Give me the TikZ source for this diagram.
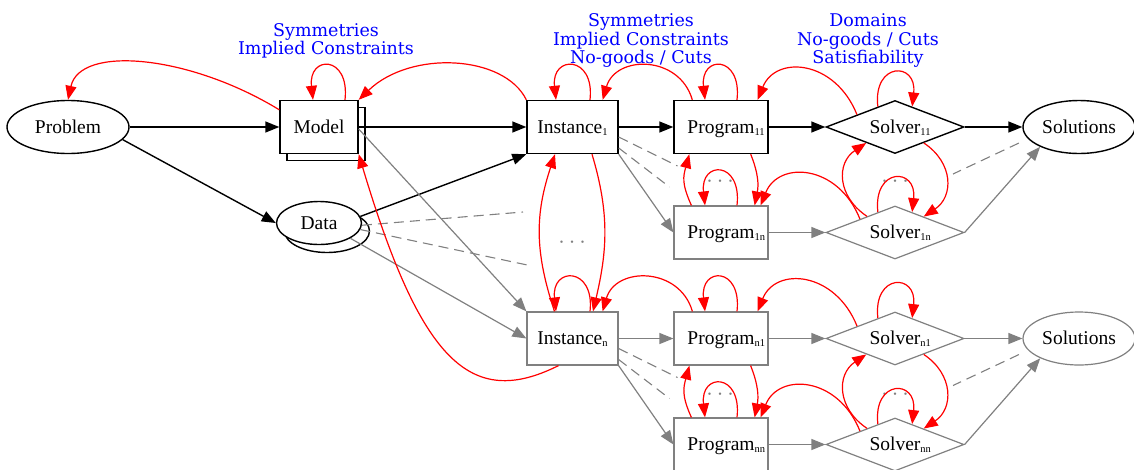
\documentclass[tikz,border=0pt]{standalone}
\usepackage{fontspec}
\setmainfont{Liberation Serif}
\newfontfamily\notefont{DejaVu Serif}
\usetikzlibrary{arrows.meta,shapes.geometric}
% small index set slightly below the baseline
\newcommand\ix[1]{\raisebox{-2pt}{\fontsize{10.5}{10.5}\selectfont #1}}
% index hanging to the right of a centred word
\newcommand\hx[1]{\rlap{\ix{#1}}}
\begin{document}
\begin{tikzpicture}[x=1pt,y=-1pt,
  every node/.style={font=\fontsize{19.5}{22}\selectfont},
  shapebase/.style={inner sep=0pt, fill=white, text height=13pt, text depth=1pt},
  bbox/.style={shapebase, rectangle, draw=black, line width=1.4pt, minimum height=53pt},
  gbox/.style={bbox, draw=gray, line width=1.2pt},
  bell/.style={shapebase, ellipse, draw=black, line width=1.4pt},
  gell/.style={bell, draw=gray, line width=1.2pt},
  bdia/.style={shapebase, diamond, aspect=2.6, minimum width=138pt, minimum height=53pt, draw=black, line width=1.4pt},
  gdia/.style={bdia, draw=gray, line width=1.2pt},
  headed/.style={-{Triangle[length=14pt,width=11pt]}},
  bedge/.style={headed, black, line width=1.4pt},
  gedge/.style={headed, gray, line width=1.2pt},
  gdash/.style={gray, line width=1.1pt, dash pattern=on 10pt off 6pt},
  redge/.style={headed, red, line width=1.2pt},
  note/.style={anchor=base, inner sep=0pt, text=blue, font=\notefont\fontsize{17.5}{19}\selectfont},
  dots/.style={anchor=base, inner sep=0pt, text=gray, font=\fontsize{10}{10}\selectfont},
]
\useasboundingbox (0,0) rectangle (1134,469);

% ---------- nodes ----------
\node[bell, minimum width=122pt, minimum height=53pt] (prob) at (68,127) {Problem};
\node[bbox, minimum width=78pt] (mshadow) at (326,134) {};
\node[bbox, minimum width=78pt] (model) at (319,127) {Model};
\node[bell, minimum width=85pt, minimum height=43pt] (dshadow) at (327,231) {};
\node[bell, minimum width=85pt, minimum height=43pt] (data) at (319,223) {Data};

\node[bbox, minimum width=91pt] (inst1) at (572.5,127) {Instance\ix{1}};
\node[bbox, minimum width=94pt] (prog11) at (721,127) {Program\hx{11}};
\node[bdia] (solv11) at (895,127) {Solver\hx{11}};
\node[bell, minimum width=112pt, minimum height=53pt] (sol1) at (1079,127) {Solutions};
\node[gbox, minimum width=94pt] (prog1n) at (721,232.5) {Program\hx{1n}};
\node[gdia] (solv1n) at (895,232.5) {Solver\hx{1n}};

\node[gbox, minimum width=91pt] (instn) at (572.5,338.5) {Instance\ix{n}};
\node[gbox, minimum width=94pt] (progn1) at (721,338.5) {Program\hx{n1}};
\node[gdia] (solvn1) at (895,338.5) {Solver\hx{n1}};
\node[gell, minimum width=112pt, minimum height=53pt] (soln) at (1079,338.5) {Solutions};
\node[gbox, minimum width=94pt] (prognn) at (721,444.5) {Program\hx{nn}};
\node[gdia] (solvnn) at (895,444.5) {Solver\hx{nn}};

% elided members of each family
\node[dots] (dI) at (572,245.5) {•\kern7pt•\kern7pt•};
\node[dots] (dP1) at (720,184.5) {•\kern7pt•\kern7pt•};
\node[dots] (dS1) at (895,184.5) {•\kern7pt•\kern7pt•};
\node[dots] (dPn) at (720,397.5) {•\kern7pt•\kern7pt•};
\node[dots] (dSn) at (895,397.5) {•\kern7pt•\kern7pt•};

% free ends of the dashed connectors
\coordinate (dd1) at (523,212);
\coordinate (dd2) at (532,266);
\coordinate (id1) at (677.5,166);
\coordinate (id2) at (669.5,187);
\coordinate (nd1) at (677.5,377.5);
\coordinate (nd2) at (669.5,398.5);
\coordinate (sd1) at (953,174);
\coordinate (sd2) at (953,385.5);

% ---------- notes ----------
\node[note] (m1) at (326,36) {Symmetries};
\node[note] (m2) at (326,54.5) {Implied Constraints};
\node[note] (i1) at (641,26) {Symmetries};
\node[note] (i2) at (641,45) {Implied Constraints};
\node[note] (i3) at (641,63.5) {No-goods / Cuts};
\node[note] (s1) at (868,26) {Domains};
\node[note] (s2) at (868,45) {No-goods / Cuts};
\node[note] (s3) at (868,63.5) {Satisfiability};

% ---------- main flow ----------
\draw[bedge] (prob.east) -- (model.west);
\draw[bedge] (prob.-13) -- (data.west);
\draw[bedge] (model.east) -- (inst1.west);
\draw[bedge] (data.9) -- (inst1.south west);
\draw[bedge] (inst1.east) -- (prog11.west);
\draw[bedge] (prog11.east) -- (solv11.west);
\draw[bedge] (solv11.east) -- (sol1.west);

\draw[gedge] ([yshift=-2pt]model.east) -- (instn.north west);
\draw[gedge] (data.-26) -- (instn.west);
\draw[gdash] (data.-3) -- (dd1);
\draw[gdash] (data.-9) -- (dd2);

\draw[gedge] (inst1.south east) -- (prog1n.west);
\draw[gdash] ([yshift=-10pt]inst1.east) -- (id1);
\draw[gdash] ([yshift=-21pt]inst1.east) -- (id2);
\draw[gedge] (prog1n.east) -- (solv1n.west);
\draw[gedge] (solv1n.east) -- (sol1.207);
\draw[gdash, shorten <=10pt] (sol1.193) -- (sd1);

\draw[gedge] (instn.east) -- (progn1.west);
\draw[gedge] (instn.south east) -- (prognn.west);
\draw[gdash] ([yshift=-10pt]instn.east) -- (nd1);
\draw[gdash] ([yshift=-21pt]instn.east) -- (nd2);
\draw[gedge] (progn1.east) -- (solvn1.west);
\draw[gedge] (solvn1.east) -- (soln.west);
\draw[gedge] (prognn.east) -- (solvnn.west);
\draw[gedge] (solvnn.east) -- (soln.207);
\draw[gdash, shorten <=10pt] (soln.193) -- (sd2);

% ---------- feedback ----------
\draw[redge] ([yshift=-10pt]model.north west) .. controls +(-90,-55) and +(12,-55) .. (prob.north);
\draw[redge] ([xshift=26pt]model.north) .. controls +(5,-45) and +(-5,-45) .. ([xshift=-6pt]model.north);
\draw[redge] (inst1.north west) .. controls +(-22,-45) and +(52,-50) .. (model.north east);
\draw[redge] ([xshift=-14pt]instn.south) .. controls +(-88,44) and +(62,207) .. (model.south east);
\draw[redge] ([xshift=-18pt]instn.north) .. controls +(-20,-60) and +(-20,60) .. ([xshift=-17.5pt]inst1.south);
\draw[redge] ([xshift=19.5pt]inst1.south) .. controls +(18,60) and +(14,-60) .. ([xshift=20.5pt]instn.north);

\foreach \i/\pa/\pb/\sa/\sb in {inst1/prog11/prog1n/solv11/solv1n, instn/progn1/prognn/solvn1/solvnn} {
  \draw[redge] ([xshift=17.5pt]\i.north) .. controls +(5,-45) and +(-5,-45) .. ([xshift=-16.5pt]\i.north);
  \draw[redge] ([xshift=19pt]\pa.north west) .. controls +(-13,-45) and +(13,-45) .. ([xshift=-16pt]\i.north east);
  \draw[redge] ([xshift=16pt]\pa.north) .. controls +(5,-45) and +(-5,-45) .. ([xshift=-16pt]\pa.north);
  \draw[redge] (\sa.162) .. controls +(-22,-55) and +(18,-45) .. ([xshift=-11pt]\pa.north east);
  \draw[redge] (\sa.130) .. controls +(-5,-45) and +(5,-45) .. (\sa.50);
  \draw[redge] ([xshift=18pt]\pb.north west) .. controls +(-10,-22) and +(-6,22) .. ([xshift=16pt]\pa.south west);
  \draw[redge] ([xshift=-18pt]\pa.south east) .. controls +(8,20) and +(4,-20) .. ([xshift=-14pt]\pb.north east);
  \draw[redge] ([xshift=16pt]\pb.north) .. controls +(5,-45) and +(-5,-45) .. ([xshift=-16pt]\pb.north);
  \draw[redge] (\sb.159) .. controls +(-22,-55) and +(18,-45) .. ([xshift=-8pt]\pb.north east);
  \draw[redge] (\sb.150) .. controls +(-30,-20) and +(-30,20) .. (\sa.209);
  \draw[redge] (\sa.331) .. controls +(30,20) and +(30,-20) .. (\sb.29);
  \draw[redge] (\sb.130) .. controls +(-5,-45) and +(5,-45) .. (\sb.50);
}
\end{tikzpicture}
\end{document}
